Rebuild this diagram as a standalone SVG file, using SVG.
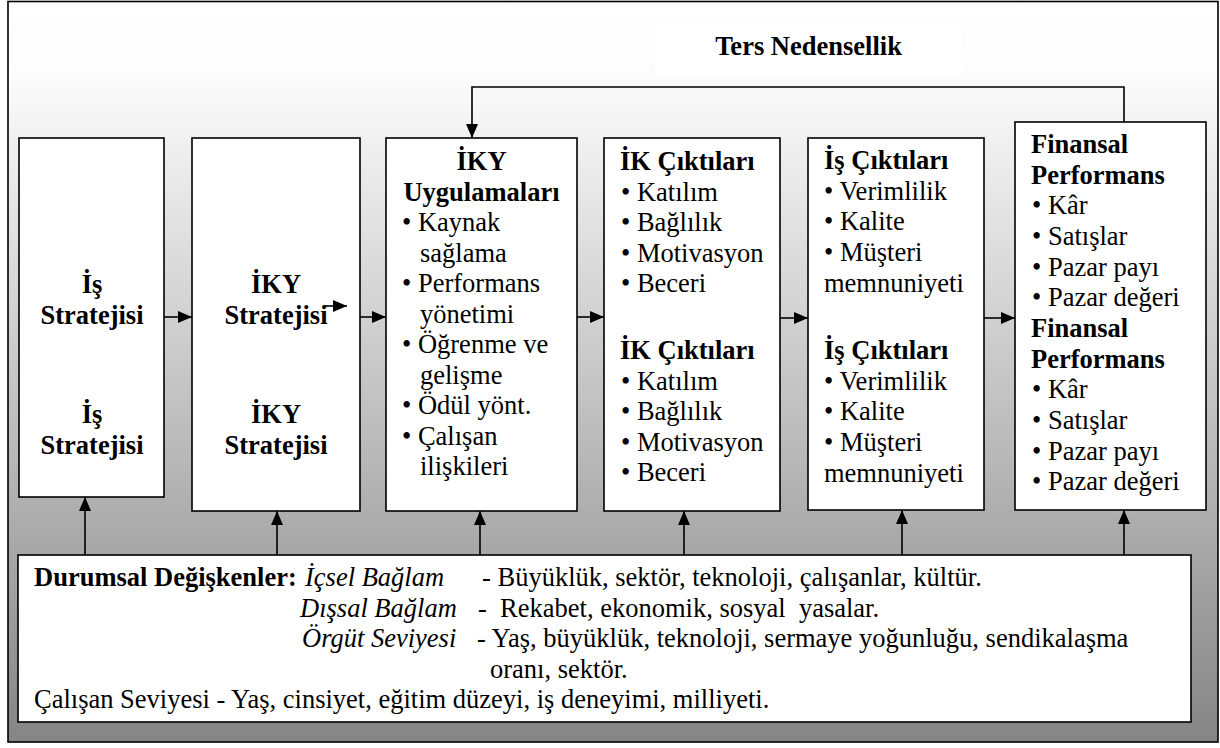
<svg xmlns="http://www.w3.org/2000/svg" width="1220" height="748" viewBox="0 0 1220 748">
<style>
text{font-family:"Liberation Serif","Times New Roman",serif;font-size:26.5px;fill:#000}
.b{font-weight:bold}
.i{font-style:italic}
.c{text-anchor:middle}
.box{fill:#fff;stroke:#000;stroke-width:1.6}
.ln{fill:none;stroke:#000;stroke-width:1.6}
</style>
<defs>
<linearGradient id="bg" x1="0" y1="0" x2="0" y2="1">
<stop offset="0" stop-color="#ffffff"/>
<stop offset="0.1" stop-color="#fcfcfc"/>
<stop offset="1" stop-color="#858585"/>
</linearGradient>
<marker id="ah" viewBox="0 0 14 12" refX="14" refY="6" markerWidth="14" markerHeight="12" markerUnits="userSpaceOnUse" orient="auto">
<path d="M0,0 L14,6 L0,12 z" fill="#000"/>
</marker>
</defs>
<rect x="8" y="1.5" width="1210" height="740.5" fill="url(#bg)" stroke="#000" stroke-width="1.6"/>
<g id="title">
<rect x="655" y="27" width="307" height="48" fill="#fff"/>
<text class="b c" x="808.5" y="55">Ters Nedensellik</text>
</g>
<g id="connectors">
<path class="ln" d="M164,317 H192" marker-end="url(#ah)"/>
<path class="ln" d="M360,317 H386" marker-end="url(#ah)"/>
<path class="ln" d="M577,317 H604" marker-end="url(#ah)"/>
<path class="ln" d="M780,318 H808" marker-end="url(#ah)"/>
<path class="ln" d="M984,318 H1015" marker-end="url(#ah)"/>
<path class="ln" d="M1124,122 V87 H472 V138" stroke-width="2" marker-end="url(#ah)"/>
<path class="ln" d="M85,555 V497" marker-end="url(#ah)"/>
<path class="ln" d="M277,555 V511" marker-end="url(#ah)"/>
<path class="ln" d="M480,555 V511" marker-end="url(#ah)"/>
<path class="ln" d="M684,555 V511" marker-end="url(#ah)"/>
<path class="ln" d="M902,555 V510" marker-end="url(#ah)"/>
<path class="ln" d="M1124,555 V510" marker-end="url(#ah)"/>
</g>
<g id="is-stratejisi">
<rect class="box" x="19" y="138" width="145" height="359"/>
<text class="b c" x="92" y="293">İş</text>
<text class="b c" x="92" y="323.5">Stratejisi</text>
<text class="b c" x="92" y="423">İş</text>
<text class="b c" x="92" y="453.5">Stratejisi</text>
</g>
<g id="iky-stratejisi">
<rect class="box" x="192" y="138" width="168" height="373"/>
<text class="b c" x="276" y="293">İKY</text>
<text class="b c" x="276" y="323.5">Stratejisi</text>
<path class="ln" d="M325,306 H347" marker-end="url(#ah)"/>
<text class="b c" x="276" y="423">İKY</text>
<text class="b c" x="276" y="453.5">Stratejisi</text>
</g>
<g id="iky-uygulamalari">
<rect class="box" x="386" y="138" width="191" height="373"/>
<text class="b c" x="481.5" y="170">İKY</text>
<text class="b c" x="481.5" y="200.5">Uygulamaları</text>
<text x="402" y="231">• Kaynak</text>
<text x="420" y="261.5">sağlama</text>
<text x="402" y="292">• Performans</text>
<text x="420" y="322.5">yönetimi</text>
<text x="402" y="353">• Öğrenme ve</text>
<text x="420" y="383.5">gelişme</text>
<text x="402" y="414">• Ödül yönt.</text>
<text x="402" y="444.5">• Çalışan</text>
<text x="420" y="475">ilişkileri</text>
</g>
<g id="ik-ciktilari">
<rect class="box" x="604" y="138" width="176" height="373"/>
<text class="b" x="620" y="170">İK Çıktıları</text>
<text x="621" y="200.5">• Katılım</text>
<text x="621" y="231">• Bağlılık</text>
<text x="621" y="261.5">• Motivasyon</text>
<text x="621" y="292">• Beceri</text>
<text class="b" x="620" y="359">İK Çıktıları</text>
<text x="621" y="389.5">• Katılım</text>
<text x="621" y="420">• Bağlılık</text>
<text x="621" y="450.5">• Motivasyon</text>
<text x="621" y="481">• Beceri</text>
</g>
<g id="is-ciktilari">
<rect class="box" x="808" y="138" width="176" height="372"/>
<text class="b" x="824" y="169">İş Çıktıları</text>
<text x="824" y="199.5">• Verimlilik</text>
<text x="824" y="230">• Kalite</text>
<text x="824" y="261">• Müşteri</text>
<text x="824" y="292">memnuniyeti</text>
<text class="b" x="824" y="359">İş Çıktıları</text>
<text x="824" y="389.5">• Verimlilik</text>
<text x="824" y="420">• Kalite</text>
<text x="824" y="451">• Müşteri</text>
<text x="824" y="482">memnuniyeti</text>
</g>
<g id="finansal-performans">
<rect class="box" x="1015" y="122" width="191" height="388"/>
<text class="b" x="1031" y="153">Finansal</text>
<text class="b" x="1031" y="183.6">Performans</text>
<text x="1032" y="214.3">• Kâr</text>
<text x="1032" y="245">• Satışlar</text>
<text x="1032" y="275.6">• Pazar payı</text>
<text x="1032" y="306.3">• Pazar değeri</text>
<text class="b" x="1031" y="337">Finansal</text>
<text class="b" x="1031" y="367.6">Performans</text>
<text x="1032" y="398.2">• Kâr</text>
<text x="1032" y="428.9">• Satışlar</text>
<text x="1032" y="459.5">• Pazar payı</text>
<text x="1032" y="490.2">• Pazar değeri</text>
</g>
<g id="durumsal-degiskenler">
<rect class="box" x="18" y="555" width="1173" height="167"/>
<text class="b" x="34" y="586">Durumsal Değişkenler:</text>
<text class="i" x="305" y="586">İçsel Bağlam</text>
<text x="482" y="586">- Büyüklük, sektör, teknoloji, çalışanlar, kültür.</text>
<text class="i" x="300" y="617">Dışsal Bağlam</text>
<text x="478" y="617" xml:space="preserve">-  Rekabet, ekonomik, sosyal  yasalar.</text>
<text class="i" x="302" y="647">Örgüt Seviyesi</text>
<text x="477" y="647">- Yaş, büyüklük, teknoloji, sermaye yoğunluğu, sendikalaşma</text>
<text x="490" y="678">oranı, sektör.</text>
<text x="34" y="708">Çalışan Seviyesi - Yaş, cinsiyet, eğitim düzeyi, iş deneyimi, milliyeti.</text>
</g>
</svg>
